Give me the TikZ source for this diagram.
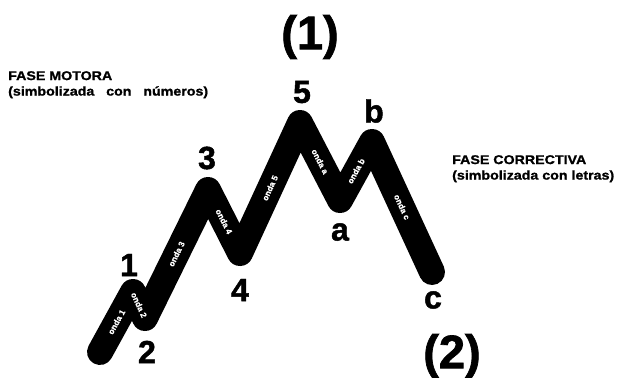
\documentclass[tikz,border=0pt]{standalone}
\usepackage{fontspec}
\setmainfont{Liberation Sans}
\newfontfamily\heavy[FakeBold=1.2,FakeStretch=1.12]{Liberation Sans Bold}
\newfontfamily\heavyn[FakeBold=1.5]{Liberation Sans Bold}
\newfontfamily\ondafont[FakeBold=0.6]{Liberation Sans Bold}
\begin{document}
\begin{tikzpicture}[x=1pt,y=-1pt,
  wave/.style={line width=26pt,line cap=round,line join=round,black},
  ptlabel/.style={font=\heavyn\fontsize{32}{32}\selectfont,inner sep=0pt},
  bigl/.style={font=\heavyn\fontsize{47}{47}\selectfont,inner sep=0pt},
  ondal/.style={font=\ondafont\fontsize{8.3}{8.3}\selectfont,text=white,sloped,inner sep=0pt},
  phase/.style={font=\heavy\fontsize{12.7}{15.5}\selectfont,align=left,anchor=north west,inner sep=0pt}]
\useasboundingbox (0,0) rectangle (622,378);
\fill[white] (0,0) rectangle (622,378);
\coordinate (s) at (100,352);
\coordinate (p1) at (133,292);
\coordinate (p2) at (145,318);
\coordinate (p3) at (208,190);
\coordinate (p4) at (240,253);
\coordinate (p5) at (300,123);
\coordinate (pa) at (340,200);
\coordinate (pb) at (372,142);
\coordinate (pc) at (432,272);
\draw[wave] (s) -- (p1) -- (p2) -- (p3) -- (p4) -- (p5) -- (pa) -- (pb) -- (pc);
\path (s) -- node[ondal]{onda 1} (p1);
\path (p1) -- node[ondal]{onda 2} (p2);
\path (p2) -- node[ondal]{onda 3} (p3);
\path (p3) -- node[ondal]{onda 4} (p4);
\path (p4) -- node[ondal]{onda 5} (p5);
\path (p5) -- node[ondal]{onda a} (pa);
\path (pa) -- node[ondal]{onda b} (pb);
\path (pb) -- node[ondal]{onda c} (pc);
\node[ptlabel] (l1) at (129,265) {1};
\node[ptlabel] (l2) at (147,352) {2};
\node[ptlabel] (l3) at (207,158) {3};
\node[ptlabel] (l4) at (240,290) {4};
\node[ptlabel] (l5) at (302,92) {5};
\node[ptlabel] (la) at (340,232) {a};
\node[ptlabel] (lb) at (374,111) {b};
\node[ptlabel] (lc) at (433,300) {c};
\node[bigl] (b1) at (310,37) {(1)};
\node[bigl] (b2) at (452,356) {(2)};
\node[phase] (fm) at (8,71) {FASE MOTORA\\(simbolizada\ \ \ con\ \ \ números)};
\node[phase] (fc) at (452,155) {FASE CORRECTIVA\\(simbolizada con letras)};
\end{tikzpicture}
\end{document}
